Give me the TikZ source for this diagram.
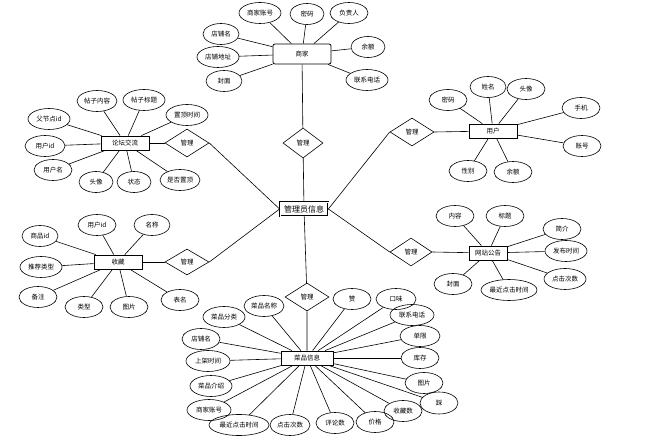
\documentclass[tikz,border=0pt]{standalone}
\usepackage{fontspec}
\setmainfont{Noto Sans CJK SC}
\usetikzlibrary{shapes.geometric}
\tikzset{
  attr/.style={draw, ellipse, inner sep=0pt, minimum height=21pt, minimum width=#1, font=\fontsize{6.5}{7}\selectfont},
  attr/.default=38pt,
  ent/.style={draw, thick, rectangle, inner sep=0pt, minimum height=14pt, minimum width=#1, font=\fontsize{6.5}{7}\selectfont},
  ent/.default=48pt,
  rel/.style={draw, diamond, aspect=1.5, inner sep=0pt, minimum width=44pt, minimum height=28pt, font=\fontsize{6.5}{7}\selectfont}
}
\begin{document}
\begin{tikzpicture}[x=1pt,y=-1pt,line width=0.6pt]
  \useasboundingbox (0,0) rectangle (656,438);
  % centre
  \node[ent=48pt, double, double distance=0.6pt, font=\fontsize{8}{9}\selectfont] (admin) at (304,209) {管理员信息};

  % merchant
  \node[ent=58pt, rounded corners=2pt, minimum height=20pt] (shop) at (302,54) {商家};
  \node[attr=42pt] (shop1) at (260,13) {商家账号};
  \node[attr=34pt] (shop2) at (307,14) {密码};
  \node[attr=38pt] (shop3) at (349,13) {负责人};
  \node[attr=36pt] (shop4) at (221,34) {店铺名};
  \node[attr=42pt] (shop5) at (218,57) {店铺地址};
  \node[attr=36pt] (shop6) at (224,81) {封面};
  \node[attr=34pt] (shop7) at (368,47) {余额};
  \node[attr=42pt] (shop8) at (367,80) {联系电话};
  \foreach \i in {1,...,8} \draw (shop) -- (shop\i);
  \node[rel, minimum width=40pt, minimum height=30pt] (relA) at (303,143) {管理};
  \draw (shop) -- (relA) -- (admin);

  % forum
  \node[ent] (forum) at (125,143) {论坛交流};
  \node[attr=42pt] (forum1) at (49,119) {父节点id};
  \node[attr=40pt] (forum2) at (97,101) {帖子内容};
  \node[attr=42pt] (forum3) at (144,100) {帖子标题};
  \node[attr=42pt] (forum4) at (187,115) {置顶时间};
  \node[attr=40pt] (forum5) at (45,146) {用户id};
  \node[attr=38pt] (forum6) at (53,170) {用户名};
  \node[attr=34pt] (forum7) at (96,182) {头像};
  \node[attr=34pt] (forum8) at (134,182) {状态};
  \node[attr=40pt] (forum9) at (180,180) {是否置顶};
  \foreach \i in {1,...,9} \draw (forum) -- (forum\i);
  \node[rel] (relB) at (187,143) {管理};
  \draw (forum) -- (relB.west);
  \draw (relB.east) -- (admin.west);

  % user
  \node[ent] (user) at (493,131) {用户};
  \node[attr=38pt] (user1) at (448,100) {密码};
  \node[attr=36pt] (user2) at (488,87) {姓名};
  \node[attr=38pt] (user3) at (526,89) {头像};
  \node[attr=38pt] (user4) at (581,108) {手机};
  \node[attr=38pt] (user5) at (582,146) {账号};
  \node[attr=38pt] (user6) at (468,171) {性别};
  \node[attr=38pt] (user7) at (513,172) {余额};
  \foreach \i in {1,...,7} \draw (user) -- (user\i);
  \node[rel] (relC) at (412,132) {管理};
  \draw (admin.east) -- (relC.west);
  \draw (relC.east) -- (user);

  % favourites
  \node[ent] (fav) at (118,262) {收藏};
  \node[attr=36pt] (fav1) at (40,236) {商品id};
  \node[attr=38pt] (fav2) at (97,225) {用户id};
  \node[attr=36pt] (fav3) at (152,225) {名称};
  \node[attr=42pt] (fav4) at (41,267) {推荐类型};
  \node[attr=38pt] (fav5) at (38,297) {备注};
  \node[attr=38pt] (fav6) at (84,307) {类型};
  \node[attr=38pt] (fav7) at (129,307) {图片};
  \node[attr=38pt] (fav8) at (180,300) {表名};
  \foreach \i in {1,...,8} \draw (fav) -- (fav\i);
  \node[rel, minimum height=26pt] (relD) at (187,262) {管理};
  \draw (fav) -- (relD.west);
  \draw (relD.east) -- (admin.west);

  % notice
  \node[ent=38pt] (news) at (488,253) {网站公告};
  \node[attr=38pt] (news1) at (455,216) {内容};
  \node[attr=38pt] (news2) at (505,216) {标题};
  \node[attr=38pt] (news3) at (562,229) {简介};
  \node[attr=42pt] (news4) at (566,251) {发布时间};
  \node[attr=42pt] (news5) at (565,279) {点击次数};
  \node[attr=38pt] (news6) at (453,284) {封面};
  \node[attr=56pt] (news7) at (509,290) {最近点击时间};
  \foreach \i in {1,...,7} \draw (news) -- (news\i);
  \node[rel, minimum width=42pt] (relE) at (411,252) {管理};
  \draw (admin.east) -- (relE.west);
  \draw (relE.east) -- (news);

  % dishes
  \node[ent=52pt] (dish) at (307,358) {菜品信息};
  \node[attr=42pt] (dish1) at (224,317) {菜品分类};
  \node[attr=40pt] (dish2) at (264,306) {菜品名称};
  \node[attr=38pt] (dish3) at (201,339) {店铺名};
  \node[attr=44pt] (dish4) at (208,361) {上架时间};
  \node[attr=42pt] (dish5) at (211,386) {菜品介绍};
  \node[attr=60pt] (dish7) at (239,425) {最近点击时间};
  \node[attr=44pt] (dish6) at (209,410) {商家账号};
  \node[attr=40pt] (dish8) at (290,425) {点击次数};
  \node[attr=38pt] (dish9) at (335,423) {评论数};
  \node[attr=38pt] (dish10) at (375,422) {价格};
  \node[attr=38pt] (dish11) at (403,411) {收藏数};
  \node[attr=38pt, minimum height=22pt] (dish12) at (439,403) {踩};
  \node[attr=38pt] (dish13) at (424,383) {图片};
  \node[attr=38pt] (dish14) at (420,358) {库存};
  \node[attr=40pt] (dish15) at (420,336) {单限};
  \node[attr=44pt] (dish16) at (412,315) {联系电话};
  \node[attr=40pt] (dish17) at (396,299) {口味};
  \node[attr=38pt] (dish18) at (352,299) {赞};
  \foreach \i in {1,...,18} \draw (dish) -- (dish\i);
  \node[rel] (relF) at (307,297) {管理};
  \draw (admin) -- (relF) -- (dish);
\end{tikzpicture}
\end{document}
